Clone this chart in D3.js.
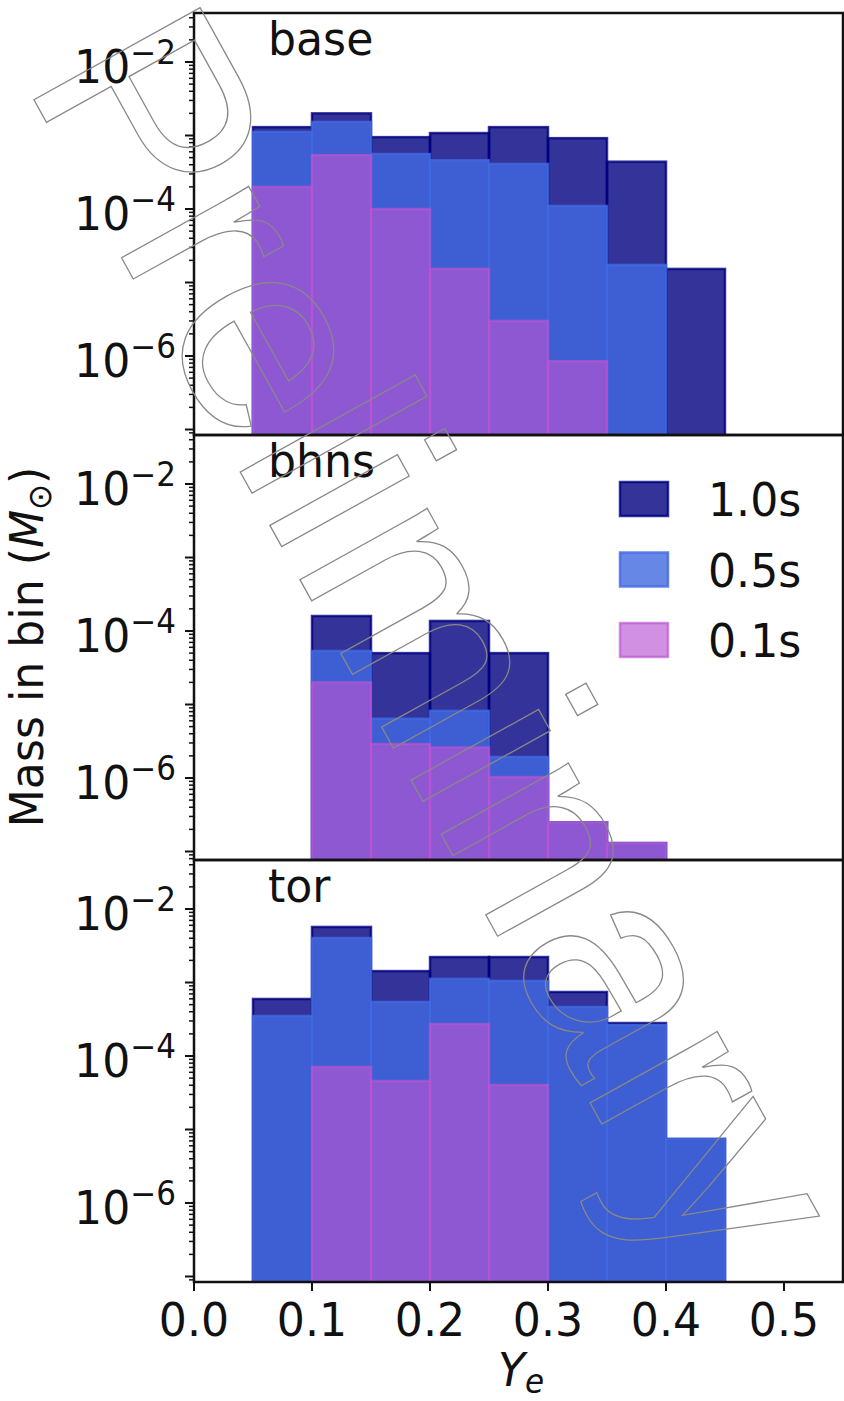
<!DOCTYPE html>
<html><head><meta charset="utf-8">
<script src="https://cdn.jsdelivr.net/npm/d3@7"></script>
<style>body{margin:0;background:#fff} svg{display:block}</style>
</head><body><svg id="c" width="844" height="1401"></svg>
<script>
// ---------------- data ----------------
const binEdges = [0.05, 0.10, 0.15, 0.20, 0.25, 0.30, 0.35, 0.40, 0.45];
const panelNames = ["base", "bhns", "tor"];
const seriesLabels = ["1.0s", "0.5s", "0.1s"];

const base_1_0s = [1.3e-3, 2.0e-3, 9.5e-4, 1.08e-3, 1.3e-3, 9.2e-4, 4.4e-4, 1.53e-5];
const base_0_5s = [1.12e-3, 1.53e-3, 5.6e-4, 4.6e-4, 4.1e-4, 1.1e-4, 1.73e-5, 0];
const base_0_1s = [2.0e-4, 5.4e-4, 1.0e-4, 1.53e-5, 3.0e-6, 8.5e-7, 0, 0];

const bhns_1_0s = [0, 1.6e-4, 5.0e-5, 1.37e-4, 5.0e-5, 2.5e-7, 1.3e-7, 0];
const bhns_0_5s = [0, 5.35e-5, 6.4e-6, 8.2e-6, 1.93e-6, 2.5e-7, 1.3e-7, 0];
const bhns_0_1s = [0, 2.0e-5, 2.9e-6, 2.6e-6, 1.03e-6, 2.5e-7, 1.3e-7, 0];

const tor_1_0s = [5.97e-4, 5.7e-3, 1.43e-3, 2.22e-3, 2.22e-3, 7.43e-4, 2.81e-4, 7.43e-6];
const tor_0_5s = [3.5e-4, 4.03e-3, 5.43e-4, 1.12e-3, 1.05e-3, 4.64e-4, 2.64e-4, 7.43e-6];
const tor_0_1s = [0, 7.1e-5, 4.57e-5, 2.72e-4, 4.03e-5, 0, 0, 0];

const xTicks = [0, 0.1, 0.2, 0.3, 0.4, 0.5];
const xTickLabels = ["0.0", "0.1", "0.2", "0.3", "0.4", "0.5"];
const yLabelExps = [-2, -4, -6];

// --------------- layout / style ---------------
const panels = [
  {name: panelNames[0], series: [base_1_0s, base_0_5s, base_0_1s]},
  {name: panelNames[1], series: [bhns_1_0s, bhns_0_5s, bhns_0_1s]},
  {name: panelNames[2], series: [tor_1_0s, tor_0_5s, tor_0_1s]}
];
const colors = ["navy", "royalblue", "mediumorchid"];
const alphas = [0.8, 0.8, 0.65];
const FONT = "DejaVu Sans";
const FS = 47, FSS = 33, SQ = 0.94;
const left = 194, right = 843;
const panelTops = [13, 435, 860];
const panelBots = [435, 860, 1282];
const DEC = 73.5;      // pixels per decade
const TOPGAP = 49;     // pixels from panel top to 1e-2

const svg = d3.select("#c");
const x = d3.scaleLinear().domain([0, 0.55]).range([left, right]);

function txt(g, tx, ty, rot, anchor) {
  return g.append("text")
    .attr("transform", `translate(${tx},${ty}) rotate(${rot}) scale(${SQ},1)`)
    .attr("text-anchor", anchor)
    .attr("font-family", FONT)
    .attr("font-size", FS)
    .attr("fill", "#111");
}

panels.forEach((p, pi) => {
  const top = panelTops[pi], bot = panelBots[pi], h = bot - top;
  const y = d3.scaleLog()
    .domain([Math.pow(10, -2 - (h - TOPGAP) / DEC), Math.pow(10, -2 + TOPGAP / DEC)])
    .range([bot, top]);
  const g = svg.append("g");
  const cid = "clip" + pi;
  svg.append("clipPath").attr("id", cid).append("rect")
    .attr("x", left).attr("y", top).attr("width", right - left).attr("height", h);
  const bars = g.append("g").attr("clip-path", `url(#${cid})`);
  p.series.forEach((vals, si) => {
    const d = vals.map((v, i) => ({v, lo: binEdges[i], hi: binEdges[i + 1]})).filter(o => o.v > 0);
    bars.selectAll(null).data(d).enter().append("rect")
      .attr("x", o => x(o.lo))
      .attr("width", o => x(o.hi) - x(o.lo))
      .attr("y", o => y(o.v))
      .attr("height", o => bot + 5 - y(o.v))
      .attr("fill", colors[si]).attr("fill-opacity", alphas[si])
      .attr("stroke", colors[si]).attr("stroke-opacity", alphas[si])
      .attr("stroke-width", 2.5);
  });

  // y ticks (major each decade, minor 2..9)
  const ticks = g.append("g");
  for (let e = -8; e <= -1; e++) {
    for (let m = 1; m <= 9; m++) {
      const v = m * Math.pow(10, e);
      const yy = y(v);
      if (yy < top - 0.5 || yy > bot + 0.5) continue;
      const len = m === 1 ? 9 : 5;
      ticks.append("line").attr("x1", left - len).attr("x2", left)
        .attr("y1", yy).attr("y2", yy)
        .attr("stroke", "#111").attr("stroke-width", m === 1 ? 2 : 1.5);
    }
  }
  yLabelExps.forEach(e => {
    const yy = y(Math.pow(10, e));
    const t = txt(g, 176, yy + 21, 0, "end");
    t.append("tspan").text("10");
    t.append("tspan").attr("font-size", FSS).attr("dy", -19).text("\u2212" + (-e));
  });

  // frame
  g.append("rect").attr("x", left).attr("y", top).attr("width", right - left).attr("height", h)
    .attr("fill", "none").attr("stroke", "#111").attr("stroke-width", 2.5);

  // panel name
  txt(g, 268, top + 42, 0, "start").text(p.name);

  if (pi === 2) {
    xTicks.forEach((tv, i) => {
      g.append("line").attr("x1", x(tv)).attr("x2", x(tv)).attr("y1", bot).attr("y2", bot + 9)
        .attr("stroke", "#111").attr("stroke-width", 2);
      txt(g, x(tv), 1336, 0, "middle").text(xTickLabels[i]);
    });
  }
  if (pi === 1) {
    const lg = g.append("g");
    seriesLabels.forEach((lab, si) => {
      const cy = 499 + si * 70.5;
      lg.append("rect").attr("x", 620).attr("y", cy - 17).attr("width", 48).attr("height", 34)
        .attr("fill", colors[si]).attr("fill-opacity", alphas[si])
        .attr("stroke", colors[si]).attr("stroke-opacity", alphas[si]).attr("stroke-width", 2.5);
      txt(lg, 708, cy + 17, 0, "start").text(lab);
    });
  }
});

// axis labels
const yl = txt(svg, 43, 647, -90, "middle");
yl.append("tspan").text("Mass in bin (");
yl.append("tspan").attr("font-style", "italic").text("M");
yl.append("tspan").attr("font-size", FSS).attr("dy", 8).text("\u2299");
yl.append("tspan").attr("dy", -8).text(")");

const xl = txt(svg, 521, 1386, 0, "middle");
xl.append("tspan").attr("font-style", "italic").text("Y");
xl.append("tspan").attr("font-style", "italic").attr("font-size", FSS).attr("dy", 7).text("e");

// watermark
svg.append("text")
  .attr("transform", "translate(23,80) rotate(61)")
  .attr("font-family", "Liberation Sans")
  .attr("font-size", 276)
  .attr("fill", "none").attr("stroke", "#888").attr("stroke-width", 1.3)
  .text("Preliminary");
</script></body></html>
